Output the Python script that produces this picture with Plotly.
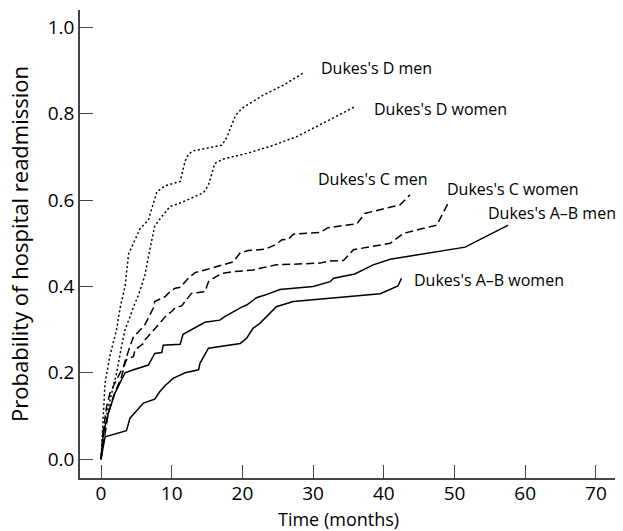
import plotly.graph_objects as go

# ---- data ----
ab_women_t = [0, 0.57, 3.6, 4.1, 6.0, 7.6, 8.3, 9.05, 10.2, 11.9, 13.8, 14.0, 15.2, 19.7, 20.6, 21.5, 22.5, 24.8, 27.2, 33.8, 39.5, 42.0, 42.5]
ab_women_p = [0, 0.052, 0.066, 0.095, 0.13, 0.139, 0.156, 0.17, 0.187, 0.20, 0.207, 0.222, 0.257, 0.268, 0.28, 0.303, 0.315, 0.353, 0.365, 0.374, 0.383, 0.401, 0.419]

ab_men_t = [0, 0.33, 1.03, 1.98, 2.9, 3.4, 4.6, 6.7, 7.6, 8.6, 8.8, 11.2, 11.6, 14.2, 14.7, 16.8, 17.5, 19.9, 20.6, 22.0, 23.2, 25.3, 30.0, 32.4, 32.9, 35.9, 38.5, 40.9, 51.5, 57.6]
ab_men_p = [0, 0.06, 0.106, 0.153, 0.184, 0.20, 0.207, 0.218, 0.245, 0.247, 0.264, 0.266, 0.289, 0.311, 0.317, 0.322, 0.33, 0.352, 0.357, 0.374, 0.38, 0.393, 0.40, 0.411, 0.419, 0.429, 0.45, 0.463, 0.491, 0.542]

c_women_t = [0, 0.57, 1.03, 1.74, 2.9, 3.4, 3.6, 4.6, 4.8, 6.0, 6.2, 8.1, 9.3, 10.0, 10.5, 11.4, 12.1, 12.8, 14.7, 15.2, 16.1, 17.1, 18.7, 21.5, 22.5, 24.1, 24.8, 31.0, 32.4, 34.3, 35.7, 40.9, 42.8, 47.5, 49.1]
c_women_p = [0, 0.06, 0.106, 0.145, 0.191, 0.222, 0.23, 0.238, 0.253, 0.268, 0.276, 0.311, 0.334, 0.342, 0.351, 0.355, 0.369, 0.384, 0.388, 0.411, 0.421, 0.43, 0.434, 0.438, 0.442, 0.448, 0.45, 0.454, 0.459, 0.46, 0.485, 0.50, 0.523, 0.542, 0.593]

c_men_t = [0, 0.33, 0.8, 1.27, 2.2, 3.15, 4.1, 4.6, 5.3, 6.2, 7.4, 7.6, 9.05, 9.76, 10.5, 11.2, 12.35, 13.3, 14.7, 17.1, 18.7, 19.7, 20.8, 23.2, 24.6, 25.6, 26.5, 27.2, 29.1, 31.0, 32.1, 33.8, 36.2, 37.3, 42.3, 43.7]
c_men_p = [0, 0.068, 0.122, 0.153, 0.184, 0.214, 0.261, 0.284, 0.295, 0.311, 0.35, 0.365, 0.376, 0.388, 0.396, 0.398, 0.419, 0.432, 0.438, 0.45, 0.457, 0.478, 0.483, 0.486, 0.496, 0.508, 0.509, 0.521, 0.523, 0.525, 0.536, 0.54, 0.545, 0.569, 0.589, 0.612]

d_women_t = [0, 0.5, 1.27, 2.2, 2.9, 3.4, 4.1, 4.6, 5.3, 6.2, 6.9, 7.6, 8.6, 9.76, 11.2, 14.0, 14.5, 15.2, 16.1, 17.3, 20.6, 23.9, 27.7, 31.4, 35.9]
d_women_p = [0, 0.08, 0.137, 0.199, 0.261, 0.30, 0.33, 0.353, 0.38, 0.425, 0.485, 0.54, 0.562, 0.585, 0.593, 0.612, 0.617, 0.635, 0.685, 0.695, 0.708, 0.724, 0.747, 0.778, 0.816]

d_men_t = [0, 0.57, 1.27, 2.2, 2.7, 3.4, 3.9, 4.8, 5.5, 6.7, 7.9, 9.05, 11.2, 11.9, 12.35, 13.05, 17.1, 17.8, 19.0, 19.9, 22.96, 25.8, 28.6]
d_men_p = [0, 0.176, 0.24, 0.30, 0.35, 0.40, 0.475, 0.51, 0.533, 0.554, 0.619, 0.633, 0.643, 0.69, 0.706, 0.714, 0.727, 0.745, 0.795, 0.812, 0.843, 0.866, 0.894]

labels = ["Dukes's D men", "Dukes's D women", "Dukes's C men", "Dukes's C women", "Dukes's A\u2013B men", "Dukes's A\u2013B women"]
label_t = [31.0, 38.5, 30.5, 48.75, 54.6, 44.1]
label_p = [0.905, 0.81, 0.648, 0.625, 0.569, 0.415]

x_ticks = [0, 10, 20, 30, 40, 50, 60, 70]
y_ticks = [0.0, 0.2, 0.4, 0.6, 0.8, 1.0]
x_title = "Time (months)"
y_title = "Probability of hospital readmission"

FONT = "Open Sans"

series = [
    (d_men_t, d_men_p, "2px,2.5px"),
    (d_women_t, d_women_p, "2px,2.5px"),
    (c_men_t, c_men_p, "8px,4px"),
    (c_women_t, c_women_p, "8px,4px"),
    (ab_men_t, ab_men_p, "solid"),
    (ab_women_t, ab_women_p, "solid"),
]

fig = go.Figure()
for t, p, dash in series:
    fig.add_trace(go.Scatter(x=t, y=p, mode="lines",
                             line=dict(color="black", width=1.5, dash=dash),
                             showlegend=False, hoverinfo="skip"))

for txt, t, p in zip(labels, label_t, label_p):
    fig.add_annotation(x=t, y=p, text=txt, showarrow=False, xanchor="left",
                       yanchor="middle", borderpad=0,
                       font=dict(family=FONT, size=16, color="black"))

# x-axis title as a paper-anchored annotation
fig.add_annotation(x=0.483, y=-0.088, xref="paper", yref="paper", text=x_title,
                   showarrow=False, xanchor="center", yanchor="middle",
                   font=dict(family=FONT, size=18, color="black"))

fig.update_layout(
    width=623, height=531,
    margin=dict(l=80, r=8, t=10, b=53, autoexpand=False),
    paper_bgcolor="white", plot_bgcolor="white",
    font=dict(family=FONT, size=18, color="black"),
)
fig.update_xaxes(
    range=[-2.97, 72.7], tickvals=x_ticks, ticktext=[str(v) for v in x_ticks],
    ticks="inside", ticklen=13, tickwidth=1.3, tickcolor="#444",
    tickfont=dict(family=FONT, size=19), ticklabelstandoff=-3,
    showline=True, linecolor="#444", linewidth=1.5, showgrid=False, zeroline=False,
    automargin=False,
)
fig.update_yaxes(
    range=[-0.0435, 1.04], tickvals=y_ticks, ticktext=[f"{v:.1f}" for v in y_ticks],
    ticks="inside", ticklen=13, tickwidth=1.3, tickcolor="#444",
    tickfont=dict(family=FONT, size=19),
    showline=True, linecolor="#444", linewidth=1.5, showgrid=False, zeroline=False,
    automargin=False,
    title=dict(text=y_title, font=dict(family=FONT, size=22), standoff=13),
)

fig.write_html("out.html", config={"displayModeBar": False},
               post_script="document.body.style.margin='0px';document.body.style.overflow='hidden';")
